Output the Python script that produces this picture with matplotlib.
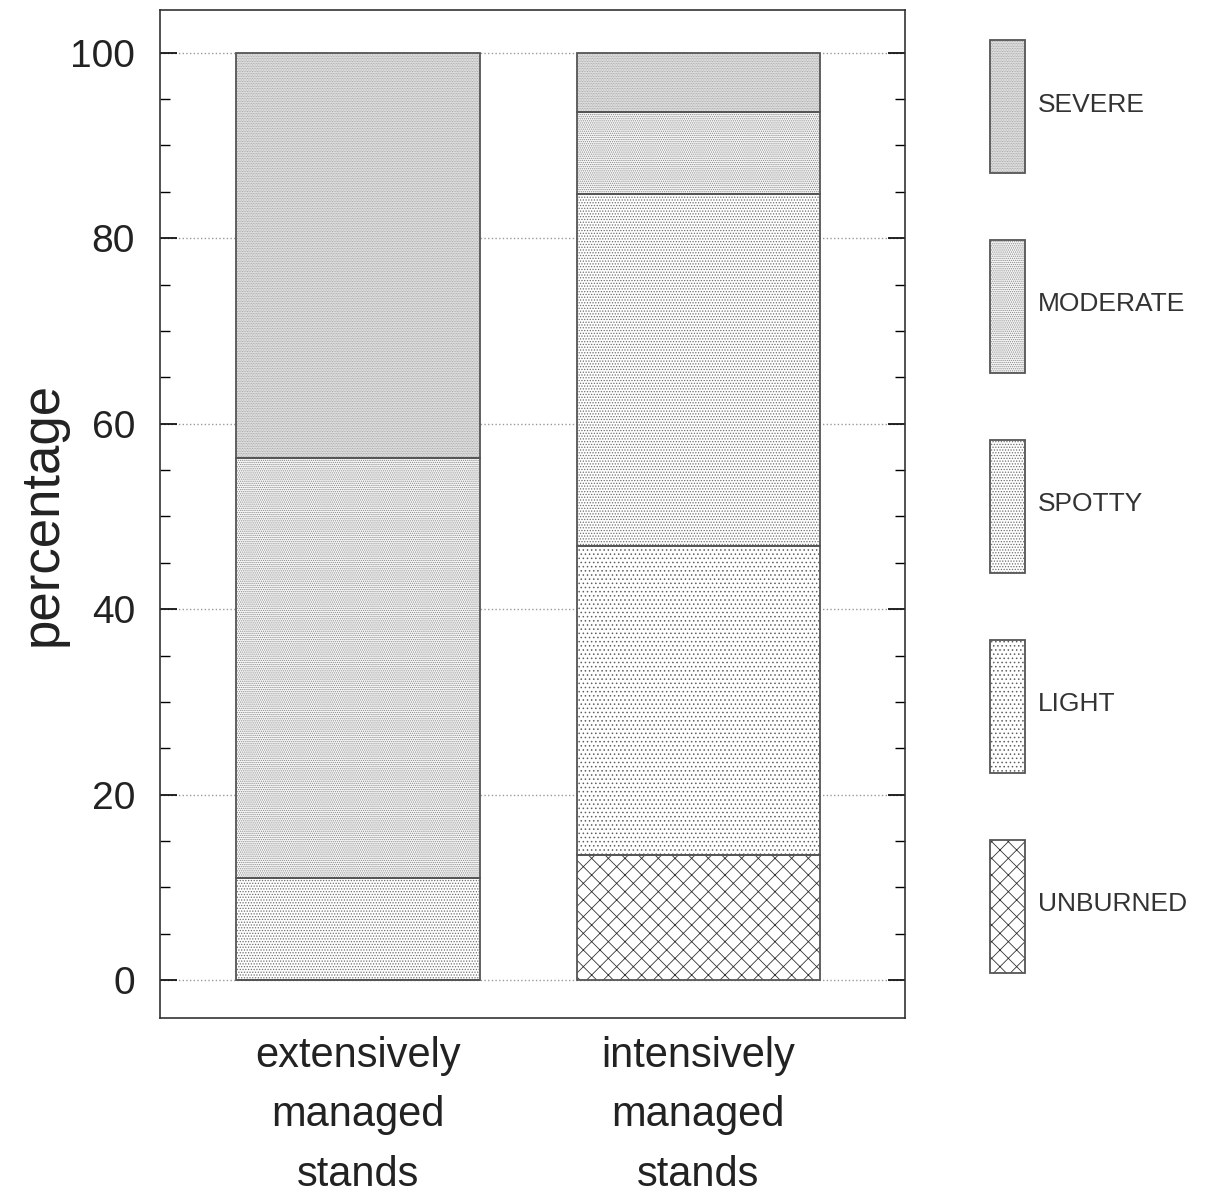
import numpy as np
import matplotlib
matplotlib.use("Agg")
import matplotlib.pyplot as plt
from matplotlib.patches import Patch
from matplotlib.ticker import MultipleLocator

plt.rcParams['font.family'] = ['Liberation Sans', 'DejaVu Sans']
plt.rcParams['hatch.linewidth'] = 0.6

# ---- data ----
stands = ["extensively\nmanaged\nstands", "intensively\nmanaged\nstands"]
classes = ["UNBURNED", "LIGHT", "SPOTTY", "MODERATE", "SEVERE"]
unburned = [0.0, 13.5]
light = [0.0, 33.3]
spotty = [11.0, 38.0]
moderate = [45.3, 8.8]
severe = [43.7, 6.4]
yticks = [0, 20, 40, 60, 80, 100]

values = [unburned, light, spotty, moderate, severe]
hatches = ['xx', '....', '......', '........', '..........']
faces = ['white', 'white', 'white', '#f6f6f6', '#ebebeb']
hatch_cols = ['#333333', '#606060', '#6e6e6e', '#8a8a8a', '#9a9a9a']
edge_col = '#555555'

fig = plt.figure(figsize=(12.07, 11.95), dpi=100)
ax = fig.add_axes([0.1326, 0.148, 0.6174, 0.8436])

x = np.arange(len(stands))
bottom = np.zeros(len(stands))
handles = {}
for name, vals, h, fc, hc in zip(classes, values, hatches, faces, hatch_cols):
    vals = np.array(vals)
    # hatch layer (edgecolor sets hatch colour), then outline layer
    ax.bar(x, vals, bottom=bottom, width=0.715, facecolor=fc,
           edgecolor=hc, hatch=h, linewidth=0, zorder=2)
    ax.bar(x, vals, bottom=bottom, width=0.715, fill=False,
           edgecolor=edge_col, linewidth=1.3, zorder=3)
    bottom = bottom + vals
    handles[name] = (Patch(facecolor=fc, edgecolor=hc, hatch=h, linewidth=0),
                     Patch(fill=False, edgecolor=edge_col, linewidth=1.3))

ax.set_xlim(-0.582, 1.609)
ax.set_ylim(-4.1, 104.6)
ax.set_xticks(x)
ax.set_xticklabels(stands, fontsize=30, linespacing=1.62)
ax.tick_params(axis='x', length=0, pad=13)
ax.set_yticks(yticks)
ax.set_yticklabels([str(v) for v in yticks], fontsize=28, color='#222222')
ax.yaxis.set_minor_locator(MultipleLocator(5))
ax.tick_params(axis='y', which='major', direction='in', length=12, width=1.2,
               left=True, right=True, pad=18)
ax.tick_params(axis='y', which='minor', direction='in', length=7, width=1.0,
               left=True, right=True)
ax.yaxis.grid(True, which='major', linestyle=':', color='#9a9a9a', linewidth=1.0)
ax.set_axisbelow(True)
for s in ax.spines.values():
    s.set_linewidth(1.2)
    s.set_color('#333333')
for lab in ax.get_xticklabels():
    lab.set_color('#222222')

ax.set_ylabel("percentage", fontsize=38, color='#222222', labelpad=2)

order = ["SEVERE", "MODERATE", "SPOTTY", "LIGHT", "UNBURNED"]
leg = fig.legend([handles[n] for n in order], order,
                 loc='upper left', bbox_to_anchor=(990 / 1207, 1 - 40 / 1195),
                 frameon=False, fontsize=19, handlelength=1.33,
                 handleheight=7.4, labelspacing=2.52, handletextpad=0.5,
                 borderpad=0, borderaxespad=0)
for t in leg.get_texts():
    t.set_color('#333333')

fig.savefig("out.png", dpi=100)
